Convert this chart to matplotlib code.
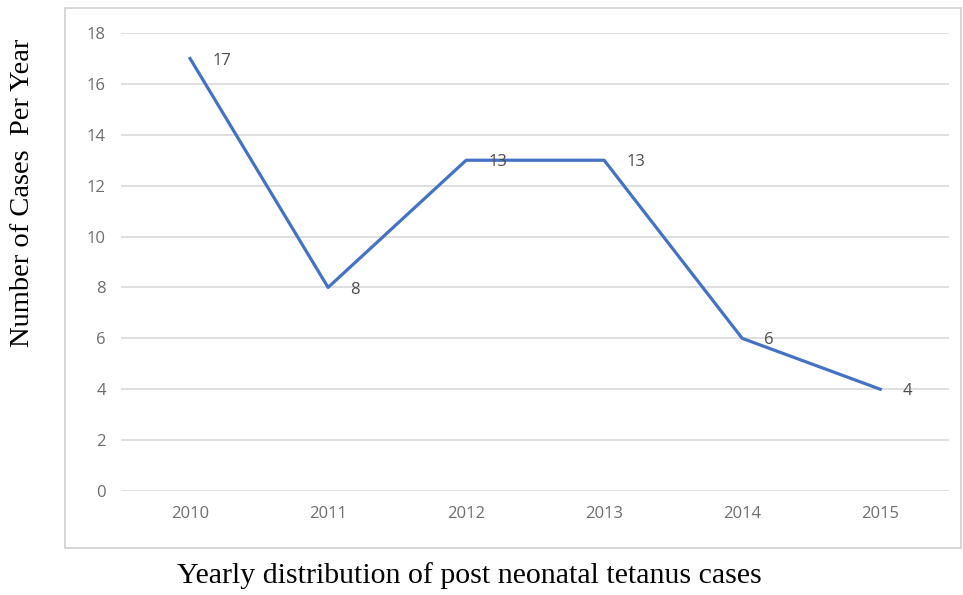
import matplotlib
matplotlib.use("Agg")
from matplotlib import pyplot as plt
from matplotlib.patches import Rectangle

# Chart data
years = ["2010", "2011", "2012", "2013", "2014", "2015"]
cases = [17, 8, 13, 13, 6, 4]
y_ticks = [0, 2, 4, 6, 8, 10, 12, 14, 16, 18]

fig = plt.figure(figsize=(9.63, 5.95), dpi=100)

# Outer border box around the chart area
fig.patches.append(Rectangle((0.0675, 0.079), 0.93, 0.907, transform=fig.transFigure,
                             fill=False, edgecolor="#d0d0d0", linewidth=1.2))

ax = fig.add_axes([0.1257, 0.1748, 0.86, 0.7697])
xs = list(range(len(years)))
ax.plot(xs, cases, color="#4472C4", linewidth=2.3, zorder=3)

# Data labels to the right of each point
for x, v in zip(xs, cases):
    ax.annotate(str(v), (x, v), xytext=(16, -1.5), textcoords="offset points",
                ha="left", va="center", fontsize=12, color="#4d4d4d",
                family="Open Sans", zorder=4)

ax.set_xlim(-0.5, len(years) - 0.5)
ax.set_ylim(0, 18)
ax.set_yticks(y_ticks)
ax.set_xticks(xs)
ax.set_xticklabels(years)
ax.grid(axis="y", color="#d9d9d9", linewidth=1.2)
ax.set_axisbelow(True)
for s in ax.spines.values():
    s.set_visible(False)
ax.tick_params(length=0, labelsize=12, labelcolor="#6e6e6e", pad=11)
ax.tick_params(axis="x", pad=11)
for lab in ax.get_xticklabels() + ax.get_yticklabels():
    lab.set_family("Open Sans")

fig.text(0.023, 0.676, "Number of Cases  Per Year", rotation=90, ha="center", va="center",
         family="Liberation Serif", fontsize=20.5)
fig.text(0.487, 0.032, "Yearly distribution of post neonatal tetanus cases", ha="center",
         va="center", family="Liberation Serif", fontsize=21.5)

fig.savefig("out.png", dpi=100)
